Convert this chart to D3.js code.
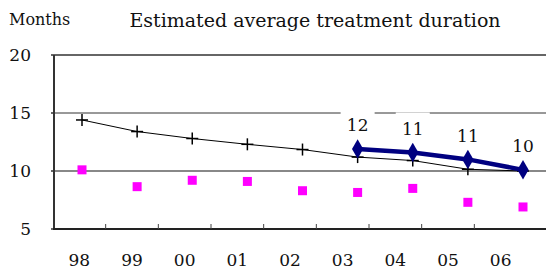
<!DOCTYPE html>
<html><head><meta charset="utf-8">
<script src="https://cdn.jsdelivr.net/npm/d3@7"></script>
<style>
html,body{margin:0;padding:0;background:#fff;}
svg text{font-family:"DejaVu Serif",serif;fill:#111;}
</style></head>
<body><svg id="c" width="546" height="270"></svg>
<script>
const years = ["98","99","00","01","02","03","04","05","06"];
const seriesCross = [14.4,13.4,12.8,12.3,11.85,11.2,10.9,10.15,10.0];
const seriesSquare = [10.1,8.65,9.2,9.1,8.3,8.15,8.5,7.3,6.9];
const diamondYears = ["03","04","05","06"];
const seriesDiamond = [11.9,11.6,11.0,10.1];
const diamondLabels = ["12","11","11","10"];
const yTicks = [5,10,15,20];
const title = "Estimated average treatment duration";
const yUnit = "Months";

(function(){
const svg = d3.select("#c");
const pL = 54, pR = 546, pT = 55, pB = 229;

const y = d3.scaleLinear().domain([5,20]).range([pB, pT]);
const xBand = d3.scaleBand().domain(years).range([53, 527]);
const xPt = d3.scalePoint().domain(years).range([82, 523]);

svg.append("line").attr("x1",pL).attr("x2",pR).attr("y1",y(20)).attr("y2",y(20))
  .attr("stroke","#333").attr("stroke-width",1.5);
svg.append("line").attr("x1",pL).attr("x2",pR).attr("y1",y(15)).attr("y2",y(15))
  .attr("stroke","#333").attr("stroke-width",1);
svg.append("line").attr("x1",pL).attr("x2",pR).attr("y1",y(10)).attr("y2",y(10))
  .attr("stroke","#888").attr("stroke-width",2);

svg.append("line").attr("x1",pL).attr("x2",pL).attr("y1",pT).attr("y2",pB)
  .attr("stroke","#333").attr("stroke-width",2);
svg.selectAll(".yt").data(yTicks).enter().append("line")
  .attr("x1",pL-3).attr("x2",pL).attr("y1",d=>y(d)).attr("y2",d=>y(d))
  .attr("stroke","#333").attr("stroke-width",1.5);
svg.selectAll(".yl").data(yTicks).enter().append("text")
  .attr("x",31).attr("y",d=>y(d)).attr("dy","0.36em").attr("text-anchor","end")
  .attr("font-size",17).text(d=>d);

svg.append("line").attr("x1",pL-1).attr("x2",pR).attr("y1",pB).attr("y2",pB)
  .attr("stroke","#222").attr("stroke-width",2);
svg.selectAll(".xt").data(years.slice(1)).enter().append("line")
  .attr("x1",d=>xBand(d)).attr("x2",d=>xBand(d)).attr("y1",pB).attr("y2",pB-5)
  .attr("stroke","#444").attr("stroke-width",1);
svg.selectAll(".xl").data(years).enter().append("text")
  .attr("x",d=>xBand(d)+xBand.bandwidth()/2).attr("y",266).attr("text-anchor","middle")
  .attr("font-size",17).text(d=>d);

svg.append("text").attr("x",9).attr("y",25).attr("font-size",16).text(yUnit);
svg.append("text").attr("x",315).attr("y",27).attr("text-anchor","middle").attr("font-size",19).text(title);

const crossData = years.map((d,i)=>({k:d,v:seriesCross[i]}));
svg.append("path").datum(crossData)
  .attr("d",d3.line().x(d=>xPt(d.k)).y(d=>y(d.v)))
  .attr("fill","none").attr("stroke","#000").attr("stroke-width",1);
const cr = svg.selectAll(".cr").data(crossData).enter().append("g")
  .attr("transform",d=>`translate(${xPt(d.k)},${y(d.v)})`);
cr.append("line").attr("x1",-6).attr("x2",6).attr("stroke","#000").attr("stroke-width",1.5);
cr.append("line").attr("y1",-6).attr("y2",6).attr("stroke","#000").attr("stroke-width",1.5);

const sqData = years.map((d,i)=>({k:d,v:seriesSquare[i]}));
svg.selectAll(".sq").data(sqData).enter().append("rect")
  .attr("x",d=>xPt(d.k)-4.5).attr("y",d=>y(d.v)-4.5).attr("width",9).attr("height",9)
  .attr("fill","#ff00ff");

const dData = diamondYears.map((d,i)=>({k:d,v:seriesDiamond[i],l:diamondLabels[i]}));
svg.append("path").datum(dData)
  .attr("d",d3.line().x(d=>xPt(d.k)).y(d=>y(d.v)))
  .attr("fill","none").attr("stroke","#000080").attr("stroke-width",4.5);
svg.selectAll(".dm").data(dData).enter().append("path")
  .attr("d",d3.symbol().type(d3.symbolDiamond).size(110))
  .attr("transform",d=>`translate(${xPt(d.k)},${y(d.v)})`)
  .attr("fill","#000080");
const lg = svg.selectAll(".lb").data(dData).enter().append("g")
  .attr("transform",d=>`translate(${xPt(d.k)},${y(d.v)-24})`);
lg.append("rect").attr("x",-17).attr("y",-16).attr("width",34).attr("height",30).attr("fill","#fff");
lg.append("text").attr("text-anchor","middle").attr("dy","0.36em").attr("font-size",17).text(d=>d.l);
})();
</script></body></html>
